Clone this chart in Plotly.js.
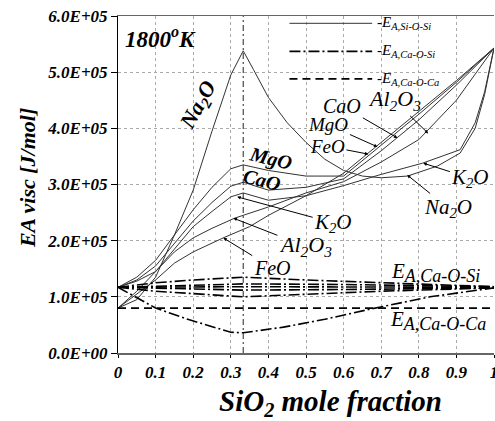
<!DOCTYPE html>
<html>
<head>
<meta charset="utf-8">
<script src="https://cdn.plot.ly/plotly-3.0.1.min.js"></script>
<style>html,body{margin:0;padding:0;background:#fff;}#chart{width:495px;height:421px;}</style>
</head>
<body>
<div id="chart"></div>
<script>
// ---- Data (EA visc in J/mol vs SiO2 mole fraction) ----
// -E_A,Si-O-Si curves for each oxide system
const xNa2O = [0,0.05,0.1,0.15,0.2,0.25,0.3,0.333,0.36,0.4,0.45,0.5,0.55,0.6,0.65,0.7,0.77,0.85,0.91,0.95,0.975,1];
const yNa2O = [80000,95000,135000,210000,290000,395000,495000,538000,505000,455000,410000,375000,345000,325000,315000,312000,315000,333000,356000,400000,460000,543000];
const xMgO = [0,0.05,0.1,0.15,0.2,0.25,0.3,0.333,0.4,0.5,0.6,0.7,0.8,0.9,1];
const yMgO = [117000,135000,165000,210000,255000,295000,328000,335000,325000,315000,315000,370000,425000,482000,543000];
const xCaO = [0,0.05,0.1,0.15,0.2,0.25,0.3,0.333,0.4,0.5,0.6,0.7,0.8,0.9,1];
const yCaO = [117000,130000,155000,195000,235000,268000,297000,304000,290000,295000,310000,360000,415000,477000,543000];
const xK2O = [0,0.05,0.1,0.15,0.2,0.25,0.3,0.333,0.4,0.5,0.6,0.7,0.81,0.91,0.95,0.975,1];
const yK2O = [117000,128000,145000,185000,225000,252000,278000,285000,272000,280000,298000,318000,338000,362000,410000,465000,543000];
const xAl2O3 = [0,0.05,0.1,0.15,0.2,0.25,0.31,0.4,0.5,0.6,0.7,0.8,0.9,1];
const yAl2O3 = [80000,110000,145000,180000,205000,222000,240000,260000,285000,305000,340000,380000,450000,543000];
const xFeO = [0,0.05,0.1,0.15,0.2,0.28,0.35,0.4,0.5,0.6,0.7,0.8,0.9,1];
const yFeO = [80000,105000,130000,160000,180000,205000,225000,245000,280000,320000,375000,430000,485000,543000];
// -E_A,Ca-O-Si curves
const xCaOSi1 = [0,0.1,0.2,0.333,0.5,0.7,0.85,1];
const yCaOSi1 = [117000,125000,130000,135000,130000,125000,121000,118000];
const xCaOSi2 = [0,0.333,0.6,1];
const yCaOSi2 = [117000,123000,122000,118000];
const xCaOSi3 = [0,0.333,1];
const yCaOSi3 = [117000,118000,117000];
const xCaOSi4 = [0,0.333,0.6,1];
const yCaOSi4 = [117000,112000,113000,116000];
const xCaOSi5 = [0,0.1,0.333,0.5,0.7,1];
const yCaOSi5 = [117000,110000,100000,105000,110000,116000];
const xCaOSi6 = [0,0.1,0.19,0.3,0.333,0.44,0.55,0.67,0.83,1];
const yCaOSi6 = [117000,80000,59000,37000,36000,46000,60000,78000,100000,116000];
// -E_A,Ca-O-Ca
const xCaOCa = [0,1];
const yCaOCa = [80000,80000];
// orthosilicate composition marker
const xOrtho = 0.333;
// tick labels
const yTickVals = [0,100000,200000,300000,400000,500000,600000];
const yTickText = ["0.0E+00","1.0E+05","2.0E+05","3.0E+05","4.0E+05","5.0E+05","6.0E+05"];
const xTickVals = [0,0.1,0.2,0.3,0.4,0.5,0.6,0.7,0.8,0.9,1];
const xTickText = ["0","0.1","0.2","0.3","0.4","0.5","0.6","0.7","0.8","0.9","1"];

const FAM = 'Liberation Serif';
const solid = {color:'#333', width:1};
const dashdot = {color:'#000', width:1.6, dash:'11px,3px,2px,3px'};
const dashed = {color:'#000', width:1.8, dash:'8px,5px'};

function tr(x,y,name,line){return {x:x,y:y,name:name,type:'scatter',mode:'lines',line:line,showlegend:false,hoverinfo:'skip',cliponaxis:false};}

const data = [
  tr(xNa2O,yNa2O,'Na2O',solid),
  tr(xMgO,yMgO,'MgO',solid),
  tr(xCaO,yCaO,'CaO',solid),
  tr(xK2O,yK2O,'K2O',solid),
  tr(xAl2O3,yAl2O3,'Al2O3',solid),
  tr(xFeO,yFeO,'FeO',solid),
  tr(xCaOSi1,yCaOSi1,'Ca-O-Si 1',dashdot),
  tr(xCaOSi2,yCaOSi2,'Ca-O-Si 2',dashdot),
  tr(xCaOSi3,yCaOSi3,'Ca-O-Si 3',dashdot),
  tr(xCaOSi4,yCaOSi4,'Ca-O-Si 4',dashdot),
  tr(xCaOSi5,yCaOSi5,'Ca-O-Si 5',dashdot),
  tr(xCaOSi6,yCaOSi6,'Ca-O-Si 6',dashdot),
  tr(xCaOCa,yCaOCa,'Ca-O-Ca',dashed)
];

function fnt(size,bold){return {family:FAM,size:size,style:'italic',weight:bold?'bold':'normal',color:'#000'};}
function lab(text,x,y,opt){
  return Object.assign({text:text,x:x,y:y,xref:'x',yref:'y',showarrow:false,font:fnt(20,false)},opt||{});
}
function arr(text,x,y,ax,ay,size,bold){
  return {text:text,x:x,y:y,xref:'x',yref:'y',showarrow:true,ax:ax,ay:ay,
    arrowhead:2,arrowsize:0.7,arrowwidth:1,arrowcolor:'#000',standoff:0,startstandoff:0,
    font:fnt(size||20,bold)};
}
function subBig(a,b,px){return a+'<sub><span style="font-size:'+px+'px">'+b+'</span></sub>';}

const annotations = [
  lab('1800<sup>o</sup>K',0.112,562000,{font:fnt(23,true)}),
  lab('Na<sub>2</sub>O',0.216,441000,{textangle:-61,font:fnt(22,true)}),
  lab('MgO',0.405,347000,{textangle:14,font:fnt(20,true)}),
  lab('CaO',0.384,308000,{textangle:14,font:fnt(20,true)}),
  arr('CaO',0.743,383000,-55,-32,20),
  arr('MgO',0.690,367000,-49,-22,19),
  arr('FeO',0.666,354000,-41,-8,19),
  arr('Al<sub>2</sub>O<sub>3</sub>',0.825,391000,-34,-33,22),
  arr('K<sub>2</sub>O',0.812,338000,47,15,21),
  arr('Na<sub>2</sub>O',0.769,317000,41,33,21),
  arr('K<sub>2</sub>O',0.317,278000,96,26,21),
  arr('Al<sub>2</sub>O<sub>3</sub>',0.307,240000,72,28,22),
  arr('FeO',0.280,205000,49,30,20),
  lab(subBig('E','A,Ca-O-Si',18),0.844,144000,{font:fnt(21,false)}),
  lab(subBig('E','A,Ca-O-Ca',18),0.852,57000,{font:fnt(21,false)}),
  // legend texts
  lab('-E<sub>A,Si-O-Si</sub>',0.684,587000,{xanchor:'left',font:fnt(15,false)}),
  lab('-E<sub>A,Ca-O-Si</sub>',0.684,537000,{xanchor:'left',font:fnt(15,false)}),
  lab('-E<sub>A,Ca-O-Ca</sub>',0.684,488000,{xanchor:'left',font:fnt(15,false)}),
  // axis titles
  {text:'SiO<sub>2</sub> mole fraction',xref:'paper',yref:'paper',x:0.564,y:-0.148,xanchor:'center',yanchor:'middle',
   showarrow:false,font:fnt(29,true)},
  {text:'EA visc [J/mol]',xref:'paper',yref:'paper',x:-0.242,y:0.519,xanchor:'center',yanchor:'middle',
   textangle:-90,showarrow:false,font:fnt(22,true)}
];

const shapes = [
  {type:'line',xref:'x',yref:'paper',x0:xOrtho,x1:xOrtho,y0:0,y1:1,line:{color:'#222',width:1,dash:'6px,3px,2px,3px'}},
  // legend samples
  {type:'line',xref:'x',yref:'y',x0:0.456,x1:0.676,y0:587000,y1:587000,line:solid},
  {type:'line',xref:'x',yref:'y',x0:0.456,x1:0.676,y0:537000,y1:537000,line:dashdot},
  {type:'line',xref:'x',yref:'y',x0:0.456,x1:0.676,y0:488000,y1:488000,line:dashed}
];

const tickFont = fnt(17,true);

const layout = {
  width:495,height:421,
  margin:{l:118,r:1,t:16,b:68},
  paper_bgcolor:'#fff',plot_bgcolor:'#fff',
  showlegend:false,
  font:{family:FAM},
  xaxis:{range:[0,1],tickvals:xTickVals,ticktext:xTickText,tickfont:tickFont,ticklabeloverflow:'allow',
    showgrid:true,gridcolor:'#aaa',griddash:'dot',gridwidth:1,zeroline:false,
    showline:true,linecolor:'#666',linewidth:1.5,mirror:true,ticks:'outside',ticklen:3,tickcolor:'#000'},
  yaxis:{range:[0,600000],tickvals:yTickVals,ticktext:yTickText,tickfont:tickFont,
    showgrid:true,gridcolor:'#aaa',griddash:'dot',gridwidth:1,zeroline:false,
    showline:true,linecolor:'#000',linewidth:1,ticks:'outside',ticklen:6,tickcolor:'#000'},
  annotations:annotations,
  shapes:shapes
};

Plotly.newPlot('chart',data,layout,{staticPlot:true,displayModeBar:false});
</script>
</body>
</html>
